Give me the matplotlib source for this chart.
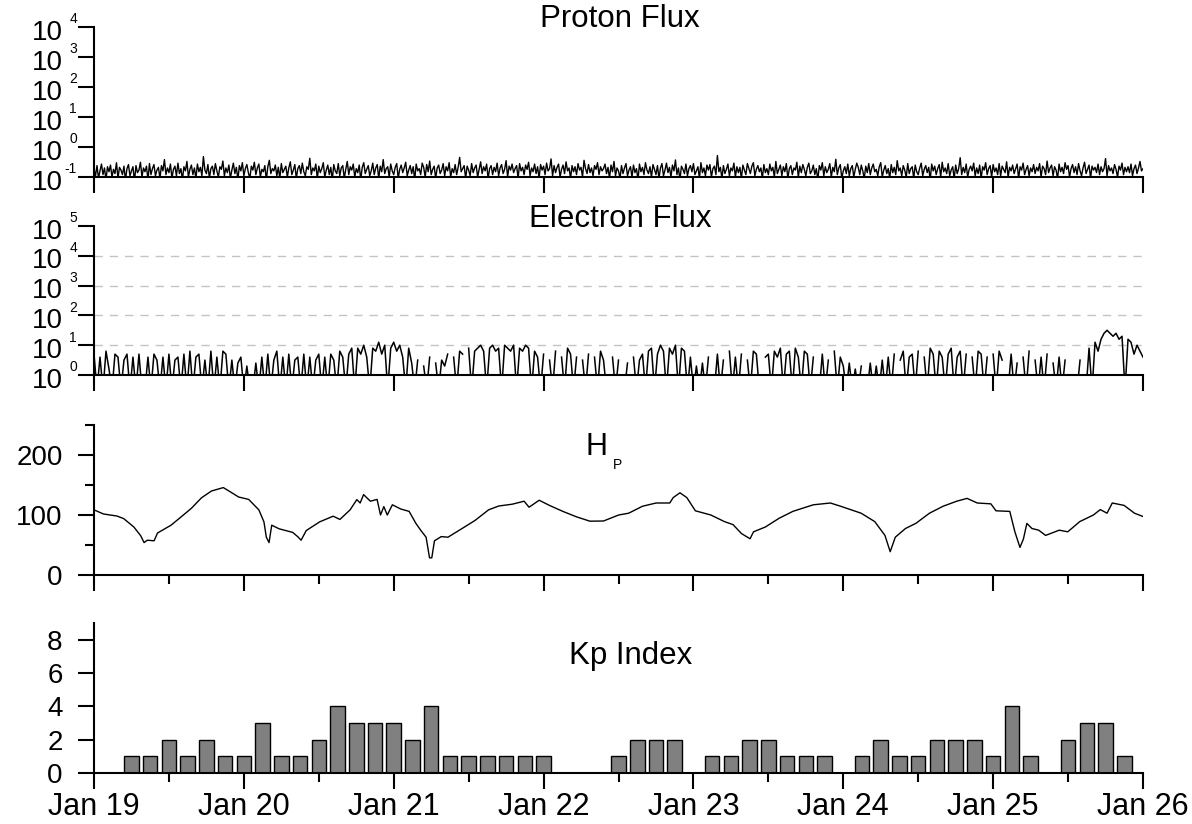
import numpy as np
import matplotlib.pyplot as plt

plt.rcParams['font.family'] = ['Liberation Sans', 'DejaVu Sans']

# x axis: days since Jan 19
date_labels = ['Jan 19', 'Jan 20', 'Jan 21', 'Jan 22', 'Jan 23', 'Jan 24', 'Jan 25', 'Jan 26']

# proton flux, hundredths (~15 min steps)
proton_vals = [
    18, 11, 24, 9, 16, 27, 12, 20, 8, 22,
    15, 25, 10, 18, 13, 30, 9, 21, 17, 12,
    23, 8, 19, 26, 11, 16, 22, 7, 24, 14,
    17, 31, 10, 20, 15, 23, 8, 28, 12, 19,
    26, 11, 17, 21, 9, 24, 16, 38, 12, 20,
    14, 27, 9, 18, 23, 11, 29, 13, 19, 8,
    22, 16, 33, 10, 18, 25, 12, 20, 9, 27,
    15, 21, 11, 48, 17, 13, 26, 9, 19, 23,
    12, 28, 16, 10, 22, 18, 34, 11, 20, 14,
    25, 9, 17, 29, 13, 21, 8, 24, 16, 30,
    11, 19, 26, 14, 9, 23, 17, 31, 12, 20,
    27, 10, 18, 15, 24, 8, 22, 36, 13, 19,
    16, 25, 11, 21, 9, 28, 14, 18, 23, 10,
    20, 32, 12, 17, 26, 9, 19, 24, 13, 29,
    15, 11, 22, 18, 42, 12, 20, 16, 27, 9,
    23, 14, 19, 30, 10, 17, 25, 12, 21, 8,
    26, 16, 13, 28, 11, 20, 24, 9, 18, 33,
    12, 22, 17, 27, 10, 19, 14, 25, 8, 21,
    30, 13, 18, 24, 11, 16, 29, 12, 20, 26,
    9, 23, 15, 38, 13, 19, 22, 10, 27, 16,
    12, 21, 28, 9, 18, 25, 14, 20, 31, 11,
    17, 24, 13, 22, 8, 27, 16, 19, 12, 29,
    21, 10, 26, 15, 34, 12, 18, 23, 9, 20,
    25, 13, 17, 28, 11, 22, 16, 30, 10, 19,
    14, 26, 12, 21, 45, 15, 19, 24, 9, 23,
    17, 11, 28, 14, 20, 25, 10, 18, 32, 13,
    22, 16, 27, 9, 19, 24, 12, 21, 15, 29,
    11, 20, 26, 13, 18, 35, 10, 23, 17, 27,
    14, 19, 24, 9, 28, 16, 21, 12, 25, 18,
    31, 11, 20, 15, 27, 13, 22, 9, 26, 17,
    23, 12, 29, 16, 19, 40, 11, 24, 14, 21,
    27, 10, 18, 25, 13, 32, 16, 20, 9, 24,
    15, 22, 12, 28, 17, 21, 10, 36, 19, 13,
    26, 14, 20, 11, 24, 18, 30, 12, 22, 16,
    19, 27, 13, 21, 9, 25, 15, 33, 11, 20,
    16, 9, 24, 13, 20, 28, 11, 17, 22, 10,
    25, 14, 19, 8, 27, 15, 21, 12, 30, 17,
    13, 22, 10, 26, 18, 12, 24, 9, 20, 28,
    11, 17, 29, 14, 21, 10, 25, 16, 37, 12,
    20, 8, 23, 18, 13, 27, 11, 19, 24, 15,
    28, 12, 16, 22, 9, 30, 14, 20, 11, 25,
    17, 26, 10, 19, 23, 12, 52, 15, 21, 9,
    24, 13, 18, 27, 11, 20, 16, 29, 10, 22,
    14, 21, 9, 25, 17, 12, 28, 19, 13, 23,
    30, 11, 18, 24, 15, 20, 9, 26, 14, 19,
    12, 27, 16, 21, 10, 33, 13, 18, 25, 11,
    22, 15, 28, 9, 19, 24, 12, 20, 17, 31,
    10, 23, 14, 26, 18, 11, 21, 29, 13, 16,
    25, 12, 19, 8, 24, 17, 30, 11, 22, 14,
    18, 28, 10, 21, 15, 39, 12, 20, 26, 9,
    16, 22, 13, 27, 11, 19, 24, 10, 18, 29,
    21, 12, 25, 16, 9, 23, 14, 28, 12, 20,
    27, 15, 18, 11, 22, 30, 10, 17, 24, 13,
    19, 9, 26, 14, 21, 12, 35, 16, 20, 11,
    24, 17, 10, 28, 13, 19, 22, 9, 25, 15,
    12, 20, 29, 11, 18, 24, 14, 21, 8, 27,
    16, 23, 12, 19, 26, 10, 31, 15, 20, 13,
    28, 11, 17, 22, 9, 25, 13, 19, 44, 12,
    21, 14, 27, 10, 18, 23, 16, 29, 11, 20,
    13, 25, 9, 22, 17, 30, 12, 19, 24, 10,
    26, 15, 20, 12, 28, 11, 23, 18, 14, 32,
    10, 21, 16, 25, 13, 19, 27, 9, 22, 17,
    29, 12, 18, 24, 11, 20, 15, 26, 13, 21,
    16, 28, 10, 23, 19, 12, 34, 14, 20, 25,
    11, 22, 17, 9, 27, 15, 21, 13, 30, 18,
    24, 10, 19, 26, 14, 22, 12, 28, 16, 11,
    20, 31, 13, 18, 25, 9, 23, 17, 21, 14,
    27, 12, 22, 15, 19, 41, 11, 24, 16, 20,
    13, 26, 18, 10, 23, 17, 29, 12, 21, 15,
    22, 14, 27, 11, 19, 25, 13, 20, 33, 16,
    19,
]

# electron flux, tenths of log10 (-5 = below 1, None = no data)
electron_vals = [
    7, -5, 6, -5, 8, 2, -5, 7, 6, -5, 5, 7, -5, 6, -5, 7,
    -5, -5,
    6, -5, 7, 5, -5, 6, -5, 7, -5, 5, 6, -5, 7, -5, 8, -5, 6, 7, -5, 5, -5, 8, -5, 6, -5, 8, 7, -5,
    5, -5, 4, 6, -5,
    3, -5, -5, 4, -5,
    6, -5, 7, -5, 5, 8, -5, 6, -5, 7, -5, 5, 6, -5, 7, -5, 6, -5, 5, 7, -5, 6,
    -5, 7, 5, -5, 8, 6, -5, 7, 9, -5,
    9, 7, 10, 6, -5, 9, 8, 11, 7, 10, -5, 9, 11, 8, 10, 6, -5, 9,
    4, -5, 5, None, 3, -5, 6, None, 4, -5, 5, 3,
    7, None, 6, -5, 8, 7, None, 9, -5, 8,
    9, 10, 8, -5, 9, 10, 8, 9, -5, 10, 9, 8, 10, -5, 9, 8, 10, 9, -5, 8,
    6, -5, 7, None, 5, -5, 8, None, 6, -5, 9, 7, -5, 6, None, 5, -5, 7, None, 6, -5, 8, 5, -5, None, 6, -5,
    5, None, -5, 4, None, 6, -5, 5,
    7, -5, 8, 9, -5, 7, 10, 8, -5, 9, 7, 10, -5, 9, 8, -5, 6,
    -5, 3, -5, 4, -5,
    6, None, -5, 7, -5, 5, None, 8, -5, 6, -5, 7, None, 5, -5, 8, 7, -5, None, 6,
    7, -5, 8, 6, 9, -5, 7, 8, -5, 9, 6, -5, 8, 7, -5,
    6, None, -5, 7, -5, 5, None, 8, -5, 6,
    3, -5, 4, -5, 2, -5, 3, None, -5, 4, -5, 3, -5, 5, -5,
    6, -5, 7, None, 5, 8, -5, 6, 7, -5, 8, None, 6, -5, 9, 7, -5, 8, 6, -5,
    7, 9, -5, 6, 8, -5, 7, None, 6, -5, 8, 7, -5, 6, None, 7, -5, 8,
    5, None, -5, 7, -5, 4, None, 6, -5, 8, None, 5, -5, 6, -5, 7, None, 4, -5, 6, -5, 5, None,
    4, None, -5, 5, None, -5,
    9, -5, 11, 8, 12,
    14, 15, 14, 13, 14, 12, 13, -5, 12, 11,
    7, 10, 8, 6,
]

# Hp (nT)
hp_day = [0.000, 0.063, 0.153, 0.198, 0.266, 0.311, 0.334, 0.356, 0.401, 0.424,
          0.514, 0.582, 0.649, 0.717, 0.784, 0.863, 0.920, 0.965, 1.032, 1.100,
          1.134, 1.150, 1.168, 1.186, 1.235, 1.326, 1.359, 1.382, 1.416, 1.506,
          1.596, 1.641, 1.709, 1.754, 1.776, 1.799, 1.844, 1.889, 1.912, 1.934,
          1.957, 1.991, 2.047, 2.103, 2.148, 2.182, 2.216, 2.239, 2.254, 2.272,
          2.317, 2.362, 2.453, 2.543, 2.633, 2.701, 2.791, 2.870, 2.903, 2.971,
          3.039, 3.129, 3.219, 3.309, 3.400, 3.501,
          3.568, 3.660, 3.751, 3.842, 3.865, 3.910, 3.956, 4.013, 4.116, 4.207,
          4.264, 4.321, 4.378, 4.401, 4.480, 4.572, 4.663, 4.800, 4.914, 4.982,
          5.119, 5.210, 5.278, 5.313, 5.347, 5.415, 5.484, 5.575, 5.666, 5.757,
          5.826, 5.894, 5.985, 6.019, 6.111, 6.145, 6.179, 6.202, 6.225, 6.259,
          6.304, 6.350, 6.441, 6.498, 6.578, 6.669, 6.715, 6.760, 6.795, 6.874,
          6.943, 7.000]
hp_val = [108.6, 101.7, 98.3, 94, 80, 65.7, 54, 58, 57, 70,
          83, 97, 111, 128.6, 140, 145.7, 137, 130, 126, 108.6,
          88.6, 63, 54, 83, 77, 71, 64, 58, 74, 88.6,
          98, 92.6, 108.6, 125.7, 120, 134, 123, 126, 100, 114,
          100, 117, 110, 106, 86, 74, 63, 28.6, 28.6, 57,
          64, 63, 77, 91, 108.6, 115, 118, 123, 113, 124.6,
          116, 106, 97, 89.7, 90, 100,
          103, 114.6, 120, 120, 129, 137, 129, 107, 100, 89,
          84, 69, 60.4, 72, 80, 94.6, 106, 117, 120, 114.6,
          103, 89, 66, 38.8, 63, 77.5, 86, 103, 114.6, 123,
          127.7, 120, 118.6, 107, 106, 72, 46, 60, 86, 77.5,
          74.7, 66, 74.7, 72, 89, 100, 109, 103, 120, 116,
          103, 97.5]

# Kp, one value per 3-hour slot (0 = no bar)
kp_vals = [0, 0, 1, 1, 2, 1, 2, 1, 1, 3, 1, 1, 2, 4, 3, 3, 3, 2, 4, 1, 1, 1, 1, 1, 1,
           0, 0, 0, 1, 2, 2, 2, 0, 1, 1, 2, 2, 1, 1, 1, 0, 1, 2, 1, 1, 2, 2, 2, 1, 4, 1,
           0, 2, 3, 3, 1]

W, H = 1192, 824
fig = plt.figure(figsize=(W / 100, H / 100), dpi=100)


def panel(top, bottom):
    return fig.add_axes([94 / W, 1 - bottom / H, (1143 - 94) / W, (bottom - top) / H])


def style(ax):
    ax.spines['top'].set_visible(False)
    ax.spines['right'].set_visible(False)
    ax.spines['left'].set_linewidth(1.5)
    ax.spines['bottom'].set_linewidth(1.5)
    ax.set_xlim(0, 7)
    ax.set_xticks(range(8))
    ax.set_xticks(np.arange(0.5, 7, 1), minor=True)
    ax.tick_params(which='major', length=11.5, width=1.5, labelsize=20, pad=11)
    ax.tick_params(which='minor', length=6.5, width=1.5)
    ax.tick_params(axis='x', labelbottom=False)


def log_labels(ax, exps):
    ax.minorticks_off()
    ax.set_yticks([10.0 ** e for e in exps])
    ax.set_yticklabels([])
    for e in exps:
        ax.annotate('10', xy=(0, 10.0 ** e), xycoords=('axes fraction', 'data'),
                    xytext=(-22.5, -4), textcoords='offset points',
                    ha='right', va='center', fontsize=20, annotation_clip=False)
        ax.annotate(str(e), xy=(0, 10.0 ** e), xycoords=('axes fraction', 'data'),
                    xytext=(-12.3, 5.5), textcoords='offset points',
                    ha='right', va='center', fontsize=10, annotation_clip=False)


# Proton flux
ax1 = panel(27, 177)
style(ax1)
t_p = np.linspace(0, 7, len(proton_vals))
ax1.plot(t_p, np.array(proton_vals) / 100, color='black', lw=1.0)
ax1.set_yscale('log')
ax1.set_ylim(0.1, 1e4)
log_labels(ax1, [-1, 0, 1, 2, 3, 4])
fig.text(620 / W, 1 - 19 / H, 'Proton Flux', ha='center', va='center', fontsize=22.5)

# Electron flux
ax2 = panel(226, 375)
style(ax2)
for e in [1, 2, 3, 4]:
    ax2.axhline(10.0 ** e, color='#c4c4c4', lw=1, ls=(0, (6, 5)), zorder=0)
t_e = np.linspace(0, 7, len(electron_vals))
ax2.plot(t_e, 10 ** (np.array(electron_vals, dtype=float) / 10), color='black', lw=1.1)
ax2.set_yscale('log')
ax2.set_ylim(1, 1e5)
log_labels(ax2, [0, 1, 2, 3, 4, 5])
fig.text(620 / W, 1 - 219 / H, 'Electron Flux', ha='center', va='center', fontsize=22.5)

# Hp
ax3 = panel(425, 575)
style(ax3)
ax3.plot(hp_day, hp_val, color='black', lw=1)
ax3.set_ylim(0, 250)
ax3.set_yticks([0, 100, 200])
ax3.set_yticks([50, 150, 250], minor=True)
fig.text(596 / W, 1 - 447 / H, 'H', ha='center', va='center', fontsize=22)
fig.text(618 / W, 1 - 465 / H, 'P', ha='center', va='center', fontsize=10)

# Kp index
ax4 = panel(623, 773)
style(ax4)
kp_t = np.arange(len(kp_vals)) * 0.125
kp = np.array(kp_vals, dtype=float)
has = kp > 0
ax4.bar(kp_t[has], kp[has], width=0.097, color='#808080', edgecolor='black', lw=1)
ax4.set_ylim(0, 9)
ax4.set_yticks([0, 2, 4, 6, 8])
ax4.tick_params(axis='y', which='minor', left=False)
ax4.tick_params(axis='x', labelbottom=True, labelsize=22, pad=2)
ax4.set_xticklabels(date_labels)
fig.text(631 / W, 1 - 656 / H, 'Kp Index', ha='center', va='center', fontsize=22.5)

fig.savefig('out.png', dpi=100)
